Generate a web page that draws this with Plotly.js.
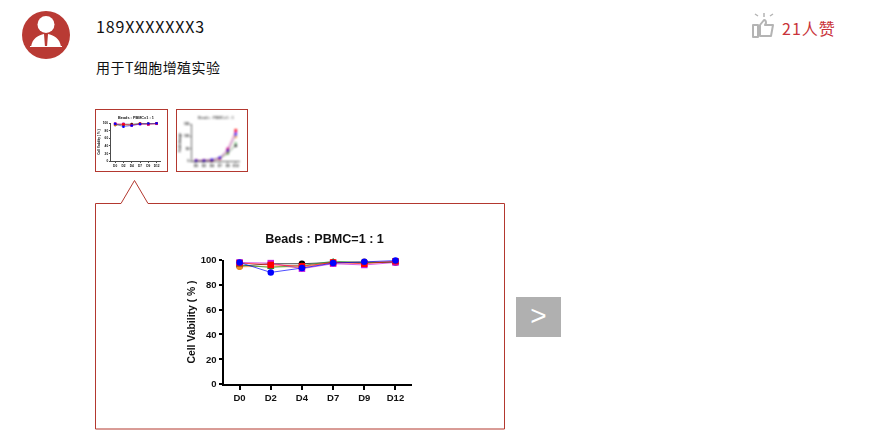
<!DOCTYPE html>
<html><head><meta charset="utf-8">
<script src="https://cdn.plot.ly/plotly-3.0.1.min.js"></script>
<style>
html,body{margin:0;padding:0;background:#fff;width:874px;height:434px;overflow:hidden}
body{font-family:"Noto Sans CJK SC","Noto Sans",sans-serif;position:relative}
.a{position:absolute}
.thumb{box-sizing:border-box;border:1px solid #b3382f;background:#fff;overflow:hidden}
.plot{position:absolute}
</style></head><body>
<svg class="a" style="left:0;top:0" width="874" height="434">
  <defs><clipPath id="av"><circle cx="46" cy="35" r="24"/></clipPath></defs>
  <circle cx="46" cy="35" r="24" fill="#b93a34"/>
  <g clip-path="url(#av)" fill="#fff">
    <circle cx="46" cy="24.5" r="8.5"/>
    <path d="M31 47 C32 38 39 35 44 34 L45 47 Z M61 47 C60 38 53 35 48 34 L47 47 Z"/>
    <rect x="30" y="46" width="32" height="1"/>
  </g>
  <g fill="none" stroke="#b4b4b4" stroke-width="2" stroke-linejoin="round">
    <rect x="753" y="25" width="5" height="12"/>
    <path d="M760 25 L764 20 Q766 20 766 23 L765 25 L773 25 L771 36 L760 36 Z"/>
    <path d="M764 13 V17 M770 16 L773 14 M758 16 L755 14" stroke-width="1.5"/>
  </g>
  <path d="M95.5 203.5 H121 L134.5 180.5 L148 203.5 H504.5 V429 H95.5 Z" fill="#fff" stroke="#b3382f" stroke-width="1"/>
</svg>
<div class="a" id="name" style="left:96px;top:15px;font-size:16px;line-height:22px;color:#111;letter-spacing:.85px">189XXXXXXX3</div>
<div class="a" id="note" style="left:96px;top:57px;font-size:14px;line-height:20px;color:#111;letter-spacing:.45px">用于T细胞增殖实验</div>
<div class="a" id="likes" style="left:782px;top:17px;font-size:16px;line-height:22px;color:#c9333a;letter-spacing:1px">21人赞</div>
<div class="a" style="left:516px;top:297px;width:45px;height:40px;background:#b0b0b0;color:#fff;font:28px/37px 'Liberation Sans',sans-serif;text-align:center">&gt;</div>
<div class="a thumb" style="left:95px;top:109px;width:73px;height:63px"></div>
<div class="a thumb" style="left:176px;top:109px;width:72px;height:63px"></div>
<div class="plot" id="t1" style="left:96px;top:110px;width:71px;height:61px;filter:blur(.75px)"></div>
<div class="plot" id="t2" style="left:177px;top:110px;width:70px;height:61px;filter:blur(.85px)"></div>
<div class="plot" id="main" style="left:170px;top:225px;width:260px;height:185px;filter:blur(.35px)"></div>
<script>
const days = ["D0","D2","D4","D7","D9","D12"];
const titleText = "Beads : PBMC=1 : 1";
const yTitleMain = "Cell Vability ( % )";
const yTitleFold = "Fold change";
const viabilityTicks = [0,20,40,60,80,100];
const foldTicks = [0,50,100,150];

const seriesNames = ["black","orange","green","magenta","red","blue"];
const seriesColors = ["#000000","#f08a1d","#1a9a2a","#c81ee0","#ff0000","#0000ff"];
const seriesSymbols = ["circle","circle","triangle-up","square","square","circle"];

const vBlack   = [95,   97,   97,   98,   98,   98];
const vOrange  = [94.5, 95,   94,   98,   98.5, 98.5];
const vGreen   = [96,   94,   95.5, 99,   98,   98];
const vMagenta = [98,   97.5, 93,   97,   96,   98];
const vRed     = [97.5, 96,   95,   98,   97,   99];
const vBlue    = [98,   90,   93.5, 97.5, 98.5, 99.5];

const fBlack   = [1, 1, 3, 10, 32, 62];
const fOrange  = [1, 1, 3, 10, 36, 98];
const fGreen   = [1, 1, 4, 12, 30, 72];
const fMagenta = [1, 1, 4, 12, 50, 118];
const fRed     = [1, 1, 3, 11, 46, 125];
const fBlue    = [1, 1, 5, 13, 42, 108];

const viability = [vBlack,vOrange,vGreen,vMagenta,vRed,vBlue];
const fold = [fBlack,fOrange,fGreen,fMagenta,fRed,fBlue];
const cfg = {staticPlot:true,displayModeBar:false};

function traces(rows, msize, lw, order){
  return order.map(i => ({
    x: days, y: rows[i], name: seriesNames[i], type:"scatter", mode:"lines+markers", cliponaxis:false,
    line:{color:seriesColors[i],width:lw},
    marker:{color:seriesColors[i],size:msize,symbol:seriesSymbols[i]}
  }));
}
function layout(o){
  const font = {family:"Liberation Sans, Arial, sans-serif",color:"#111",size:o.tick,weight:700};
  return {
    width:o.w,height:o.h,paper_bgcolor:"rgba(0,0,0,0)",plot_bgcolor:"rgba(0,0,0,0)",showlegend:false,
    margin:{l:o.l,r:o.w-o.l-o.pw,t:o.t,b:o.h-o.t-o.ph,pad:0},
    title:{text:titleText,x:o.tx,xref:"paper",xanchor:"center",y:o.ty,yref:"container",yanchor:"middle",
      font:{family:font.family,size:o.ts,color:o.tc||"#111",weight:700}},
    xaxis:{type:"category",categoryorder:"array",categoryarray:days,range:o.xr,showgrid:false,zeroline:false,
      showline:true,linecolor:"#000",linewidth:o.alw,ticks:"outside",ticklen:o.xtl,tickwidth:o.alw,tickcolor:"#000",
      tickfont:font,tickangle:0,automargin:false},
    yaxis:{range:o.yr,tickvals:o.yt,ticktext:o.yt.map(String),showgrid:false,zeroline:false,
      showline:true,linecolor:"#000",linewidth:o.alw,ticks:"outside",ticklen:o.tl,tickwidth:o.alw,tickcolor:"#000",
      tickfont:font,automargin:false,
      title:{text:o.yTitle,standoff:o.so,font:{family:font.family,size:o.ys,color:"#111",weight:700}}}
  };
}
Plotly.newPlot("main",traces(viability,6.5,.7,[0,1,2,3,4,5]),layout({
  w:260,h:185,l:53.5,pw:188.5,t:34.7,ph:124.6,tx:.535,ty:.925,ts:12.6,tick:9.5,ys:10.4,tl:3.5,xtl:3.5,alw:2,
  xr:[-0.5,5.53],yr:[0,100],yt:viabilityTicks,yTitle:yTitleMain,so:3
}),cfg);
Plotly.newPlot("t1",traces(viability,2.6,.4,[0,1,2,3,4,5]),layout({
  w:71,h:61,l:15,pw:49.7,t:13,ph:38,tx:.5,ty:.88,ts:3.8,tick:3.2,ys:3.2,tl:1.5,xtl:1.5,alw:.7,
  xr:[-0.5,5.53],yr:[0,100],yt:viabilityTicks,yTitle:yTitleMain,so:2
}),cfg);
Plotly.newPlot("t2",traces(fold,2.4,.3,[0,1,2,3,4,5]),layout({
  w:70,h:61,l:14.7,pw:48.5,t:14,ph:37.5,tx:.5,ty:.88,ts:3.8,tick:3.2,ys:3.2,tl:1.5,xtl:1.5,alw:.6,tc:"#555",
  xr:[-0.5,5.53],yr:[0,150],yt:foldTicks,yTitle:yTitleFold,so:2
}),cfg);
</script>
</body></html>
